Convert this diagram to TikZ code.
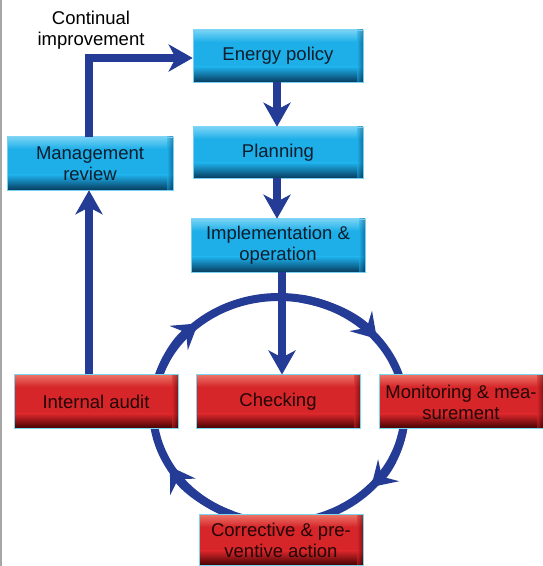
\documentclass[tikz,border=0pt]{standalone}
\usepackage{fontspec}
\setmainfont{Liberation Sans}
\usetikzlibrary{arrows.meta,calc}
\definecolor{cyT}{RGB}{120,212,246}
\definecolor{cyM}{RGB}{30,174,232}
\definecolor{cyB}{RGB}{6,60,95}
\definecolor{rdT}{RGB}{236,112,100}
\definecolor{rdM}{RGB}{214,38,42}
\definecolor{rdB}{RGB}{60,0,0}
\definecolor{flowblue}{RGB}{36,60,150}
\definecolor{edgecy}{RGB}{120,215,240}
\tikzset{
  boxbase/.style={rectangle, inner sep=1pt, align=center, minimum width=164pt, minimum height=52pt,
    font=\fontsize{18.5}{21}\selectfont},
  btn/.style n args={3}{path picture={
    \fill[#2] (path picture bounding box.south west) rectangle (path picture bounding box.north east);
    \shade[top color=#2, bottom color=#3] (path picture bounding box.south west) rectangle ($(path picture bounding box.south east)+(0,15pt)$);
    \shade[top color=#1, bottom color=#2] ($(path picture bounding box.north west)+(0,-12pt)$) rectangle (path picture bounding box.north east);
    \shade[left color=#2, right color=#3, opacity=0.5] ($(path picture bounding box.south east)+(-6pt,0)$) rectangle (path picture bounding box.north east);
  }},
  cybox/.style={boxbase, btn={cyT}{cyM}{cyB}, draw=cyM!60!white, line width=0.6pt, text={rgb,255:red,12;green,30;blue,45}},
  rdbox/.style={boxbase, btn={rdT}{rdM}{rdB}, draw=edgecy, line width=1pt, text={rgb,255:red,35;green,5;blue,5}},
  flow/.style={draw=flowblue, line width=8pt, -{Stealth[length=24pt,width=27pt,inset=7pt]}},
  cyc/.style={draw=flowblue, line width=8pt},
  cycarrow/.style={draw=flowblue, line width=8pt, -{Stealth[length=24pt,width=30pt,inset=9pt]}}
}
\begin{document}
\begin{tikzpicture}[x=1pt,y=1pt]
\useasboundingbox (0,0) rectangle (543,566);
\fill[white] (0,0) rectangle (543,566);
\fill[gray!70] (0,0) rectangle (2,566);
% cycle
\coordinate (C) at (279,156);
\draw[cyc] (C) ellipse [x radius=126, y radius=113];
\draw[cycarrow] ($(C)+(170:126 and 113)$) arc[start angle=170, end angle=130, x radius=126, y radius=113];
\draw[cycarrow] ($(C)+(80:126 and 113)$) arc[start angle=80, end angle=39, x radius=126, y radius=113];
\draw[cycarrow] ($(C)+(-5:126 and 113)$) arc[start angle=-5, end angle=-43, x radius=126, y radius=113];
\draw[cycarrow] ($(C)+(-112:126 and 113)$) arc[start angle=-112, end angle=-150, x radius=126, y radius=113];
% boxes
\node[cybox, minimum width=170pt] (ep) at (278,510) {Energy policy};
\node[cybox, minimum width=170pt, minimum height=51pt] (pl) at (278,413.5) {Planning};
\node[cybox, minimum width=174pt, minimum height=53pt] (im) at (278,320.5) {Implementation \&\\operation};
\node[cybox, minimum width=166pt, minimum height=53pt] (mr) at (90,402.5) {Management\\review};
\node[rdbox, minimum height=54pt] (ia) at (96,164) {Internal audit};
\node[rdbox, minimum height=54pt] (ch) at (278,164) {Checking};
\node[rdbox, minimum height=54pt] (mo) at (461,164) {Monitoring \& mea-\\surement};
\node[rdbox, minimum height=51pt] (co) at (281,25.5) {Corrective \& pre-\\ventive action};
\node[font=\fontsize{18.5}{21}\selectfont, align=center, inner sep=0pt] (ci) at (91,536) {Continual\\improvement};
% connectors
\draw[flow] ([xshift=-1pt]mr.north) |- ([yshift=-2pt]ep.west);
\draw[flow] ([xshift=-1pt]ep.south) -- ([xshift=-1pt]pl.north);
\draw[flow] ([xshift=-1pt]pl.south) -- ([xshift=-1pt]im.north);
\draw[flow] ([xshift=4pt]im.south) -- ([xshift=4pt]im.south |- ch.north);
\draw[flow] ([xshift=-1pt]mr.south |- ia.north) -- ([xshift=-1pt]mr.south);
\end{tikzpicture}
\end{document}
